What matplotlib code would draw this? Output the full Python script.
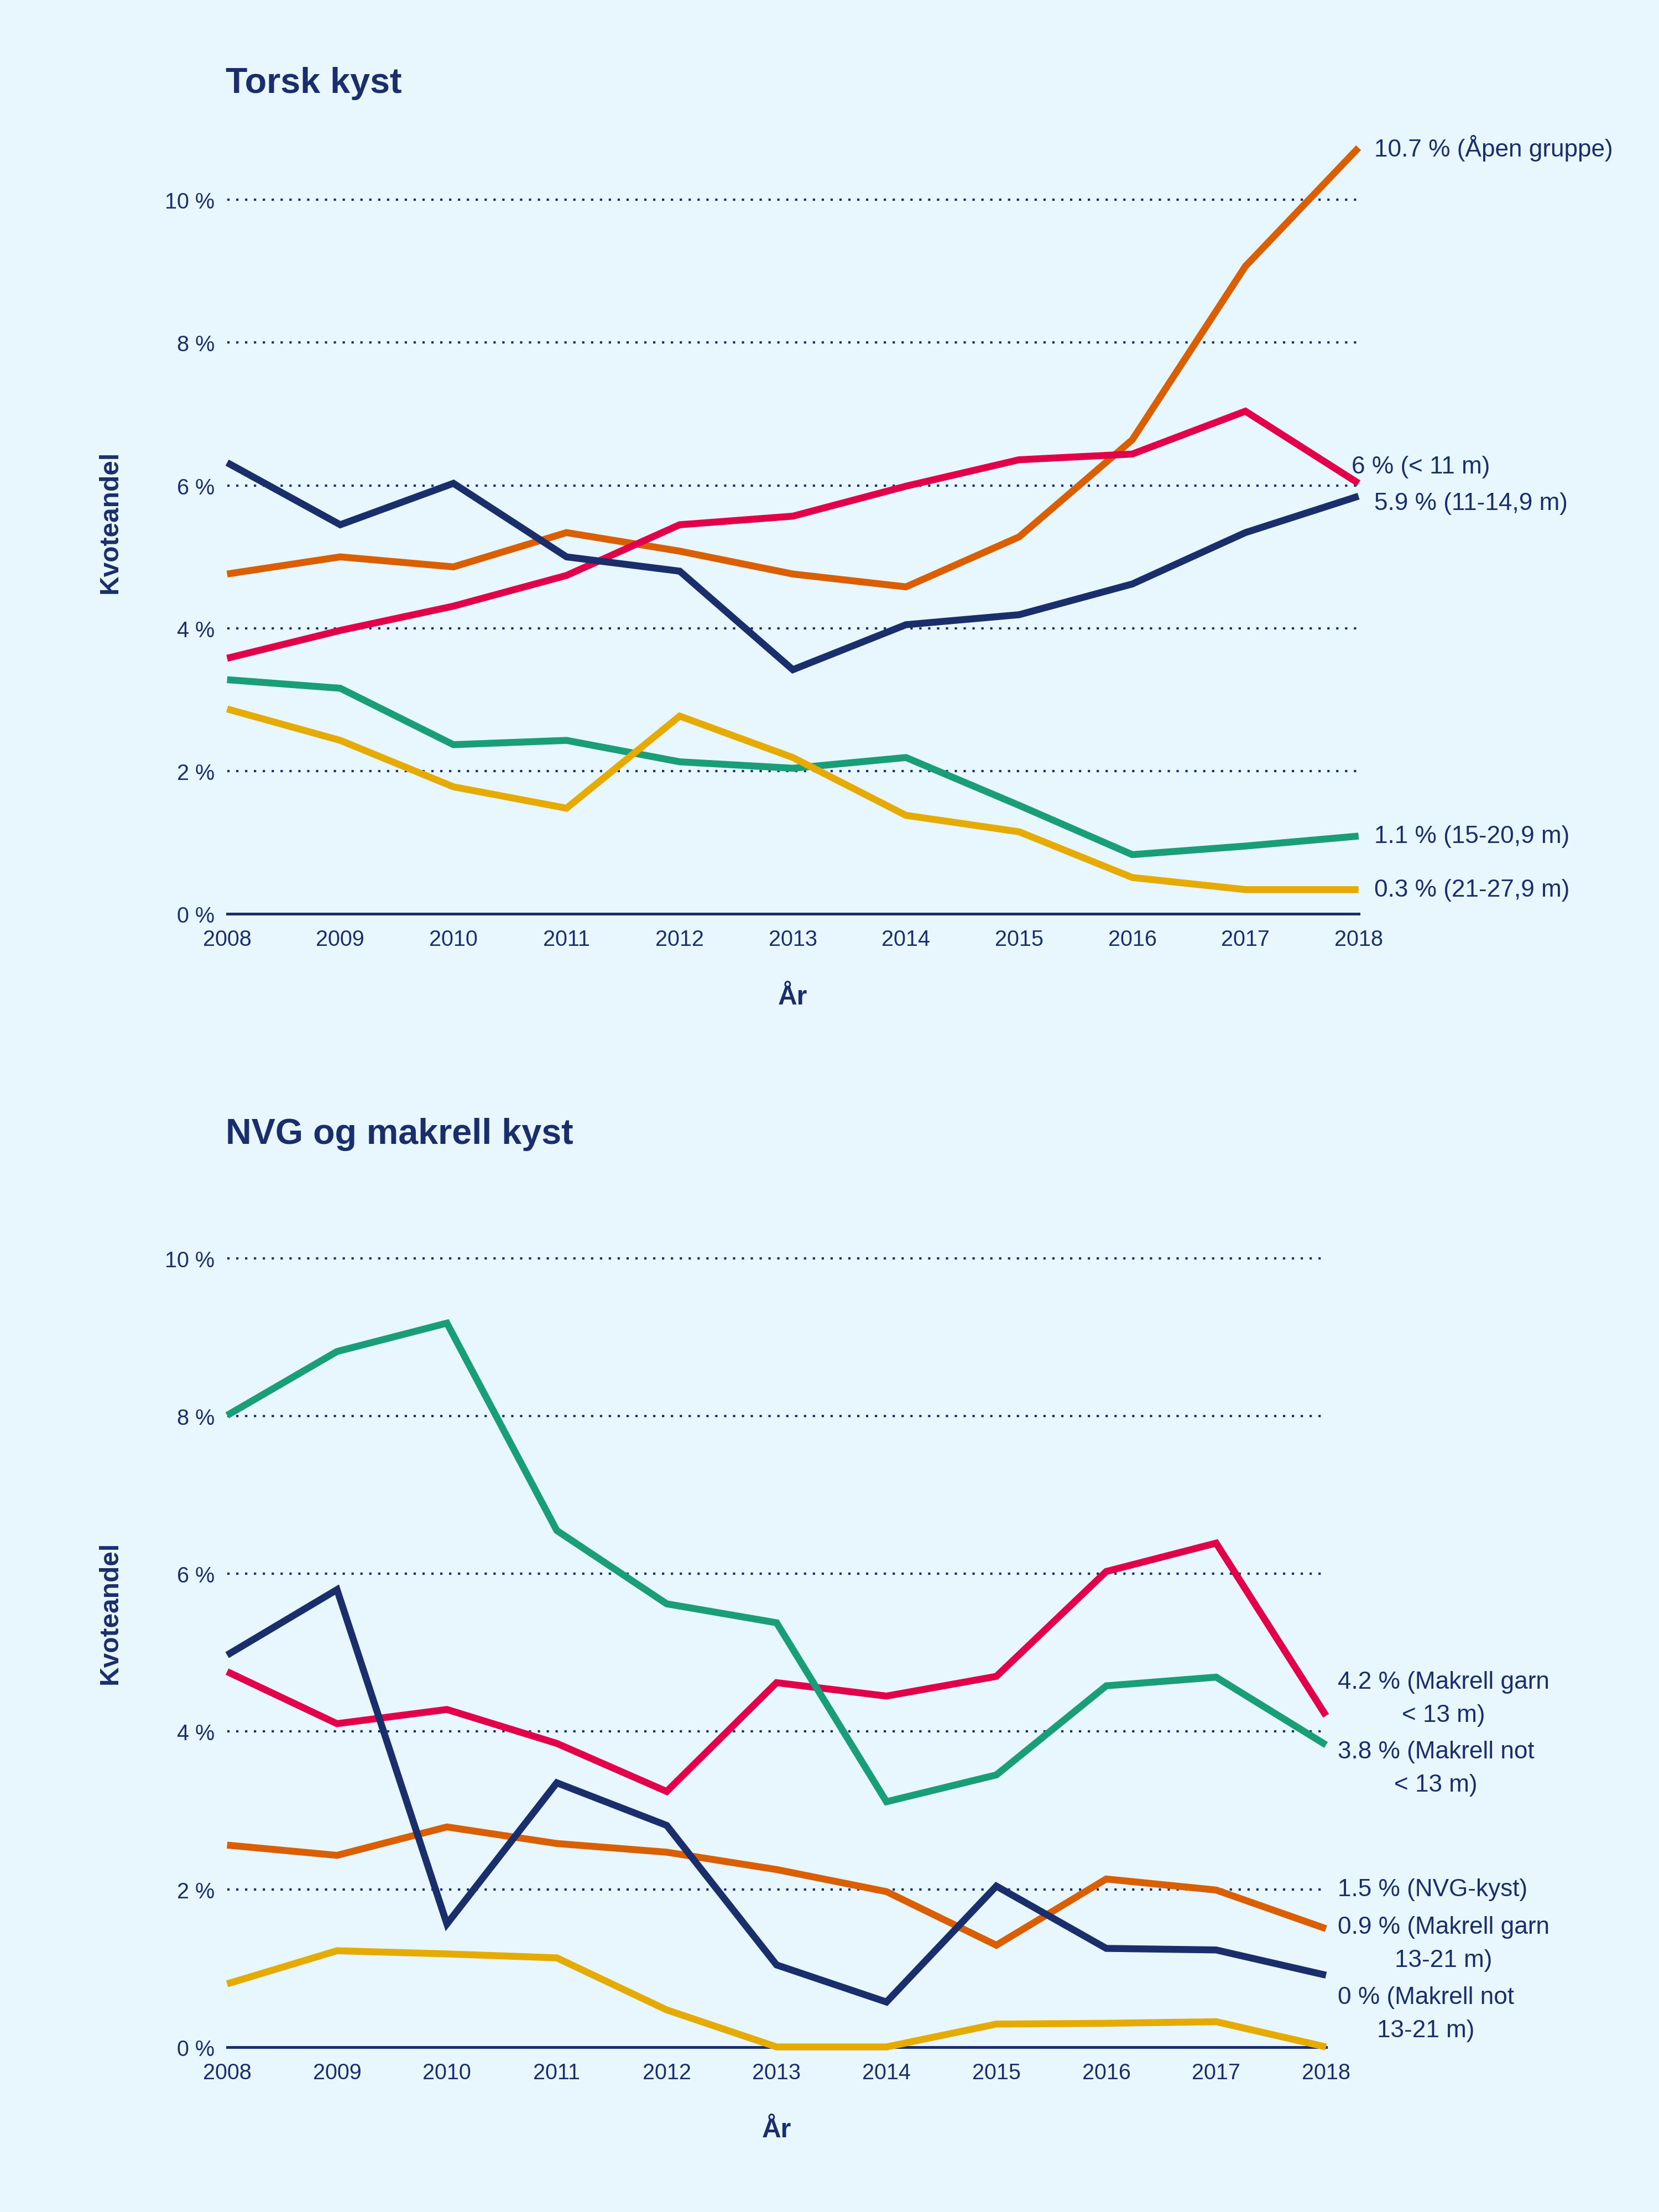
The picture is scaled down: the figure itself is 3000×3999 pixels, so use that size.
import matplotlib.pyplot as plt
import numpy as np

plt.rcParams['font.family'] = ['Liberation Sans', 'DejaVu Sans']

# DATA
years = list(range(2008, 2019))

# Torsk kyst
torsk_apen = [4.76, 5.00, 4.86, 5.34, 5.08, 4.76, 4.58, 5.28, 6.64, 9.07, 10.73]
torsk_u11 = [3.58, 3.97, 4.31, 4.74, 5.45, 5.57, 5.99, 6.36, 6.44, 7.04, 6.03]
torsk_11_14 = [6.32, 5.45, 6.03, 5.00, 4.80, 3.42, 4.05, 4.19, 4.62, 5.34, 5.85]
torsk_15_20 = [3.28, 3.16, 2.37, 2.43, 2.13, 2.04, 2.19, 1.52, 0.83, 0.95, 1.09]
torsk_21_27 = [2.87, 2.43, 1.78, 1.48, 2.77, 2.19, 1.38, 1.15, 0.51, 0.34, 0.34]
torsk_labels = ['10.7 % (Åpen gruppe)', '6 % (< 11 m)', '5.9 % (11-14,9 m)',
                '1.1 % (15-20,9 m)', '0.3 % (21-27,9 m)']

# NVG og makrell kyst
mak_not_u13 = [8.01, 8.82, 9.18, 6.55, 5.62, 5.38, 3.11, 3.45, 4.58, 4.69, 3.83]
mak_garn_u13 = [4.76, 4.10, 4.28, 3.85, 3.24, 4.62, 4.45, 4.70, 6.03, 6.39, 4.20]
mak_garn_13_21 = [4.97, 5.80, 1.56, 3.35, 2.81, 1.04, 0.57, 2.04, 1.25, 1.23, 0.91]
nvg_kyst = [2.56, 2.43, 2.79, 2.58, 2.47, 2.25, 1.97, 1.29, 2.13, 1.99, 1.50]
mak_not_13_21 = [0.80, 1.22, 1.18, 1.13, 0.47, 0.0, 0.0, 0.29, 0.30, 0.32, 0.0]
nvg_labels = ['4.2 % (Makrell garn\n< 13 m)', '3.8 % (Makrell not\n< 13 m)',
              '1.5 % (NVG-kyst)', '0.9 % (Makrell garn\n13-21 m)',
              '0 % (Makrell not\n13-21 m)']

yticks = [0, 2, 4, 6, 8, 10]

# STYLE
BG = '#E8F7FE'
NAVY = '#1A2E6C'
RED = '#E2004A'
ORANGE = '#D95F02'
GREEN = '#1A9E77'
YELLOW = '#E6AB02'

fig = plt.figure(figsize=(10, 13.3333), dpi=300, facecolor=BG)


def panel(ax, series, colors, labels, offsets, title, title_y, xlab_y, ylab_y):
    ax.set_facecolor(BG)
    for s in ['top', 'right', 'left']:
        ax.spines[s].set_visible(False)
    ax.spines['bottom'].set_color(NAVY)
    ax.spines['bottom'].set_linewidth(1.2)
    ax.set_xlim(years[0], years[-1])
    ax.set_ylim(0, 11)
    ax.set_xticks(years)
    ax.set_xticklabels([str(y) for y in years])
    ax.set_yticks(yticks)
    ax.set_yticklabels([f'{v} %' for v in yticks])
    ax.tick_params(length=0, labelsize=9.5, colors=NAVY)
    ax.tick_params(axis='y', pad=5.5)
    ax.tick_params(axis='x', pad=6.5)
    for v in yticks[1:]:
        ax.axhline(v, color=NAVY, lw=1.0, ls=(0, (1, 2.85)),
                   dash_capstyle='butt', zorder=1)
    for vals, c in zip(series, colors):
        ax.plot(years, vals, color=c, lw=3.0, clip_on=False, zorder=3,
                solid_capstyle='butt', solid_joinstyle='miter')
    for vals, lab, (dx, dy) in zip(series, labels, offsets):
        ax.annotate(lab, (years[-1], vals[-1]), xytext=(dx, dy),
                    textcoords='offset points', ha='left', va='center',
                    multialignment='center', linespacing=1.6,
                    fontsize=10.6, color=NAVY, annotation_clip=False)
    pos = ax.get_position()
    fig.text(0.136, title_y, title, fontsize=15.5, fontweight='bold',
             color=NAVY, ha='left', va='center')
    fig.text((pos.x0 + pos.x1) / 2, xlab_y, 'År', fontsize=11.5,
             fontweight='bold', color=NAVY, ha='center', va='center')
    fig.text(0.0663, ylab_y, 'Kvoteandel', fontsize=11.5, fontweight='bold',
             color=NAVY, ha='center', va='center', rotation=90)


ax1 = fig.add_axes([0.1369, 0.5867, 0.682, 0.355])
panel(ax1,
      [torsk_apen, torsk_u11, torsk_11_14, torsk_15_20, torsk_21_27],
      [ORANGE, RED, NAVY, GREEN, YELLOW],
      torsk_labels,
      [(6.7, 0), (-3, 7.3), (6.7, -3), (6.7, 0), (6.7, 0)],
      'Torsk kyst', 0.9623, 0.549, 0.764)

ax2 = fig.add_axes([0.1369, 0.0746, 0.6624, 0.392])
panel(ax2,
      [mak_garn_u13, mak_not_u13, nvg_kyst, mak_garn_13_21, mak_not_13_21],
      [RED, GREEN, ORANGE, NAVY, YELLOW],
      nvg_labels,
      [(5, 7.6), (5, -10), (5, 17), (5, 13.8), (5, 14.4)],
      'NVG og makrell kyst', 0.4872, 0.037, 0.271)

fig.savefig('out.png', dpi=300, facecolor=BG)
